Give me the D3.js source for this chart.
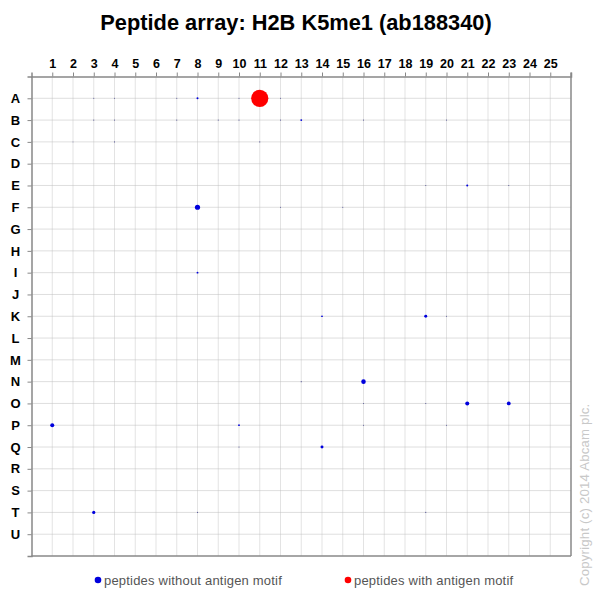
<!DOCTYPE html>
<html><head><meta charset="utf-8">
<script src="https://cdn.jsdelivr.net/npm/d3@7"></script>
<style>body{margin:0;background:#fff}svg{display:block}</style>
</head><body>
<svg id="c" width="599" height="599"></svg>
<script>
const title = "Peptide array: H2B K5me1 (ab188340)";
const columns = d3.range(1, 26);
const rows = ["A","B","C","D","E","F","G","H","I","J","K","L","M","N","O","P","Q","R","S","T","U"];
// [row, column, relative signal]
const withoutMotif = [
  ["A",8,0.014],["B",13,0.012],["E",21,0.014],["F",8,0.09],["I",8,0.012],
  ["K",14,0.01],["K",19,0.03],["N",16,0.07],["O",21,0.055],["O",23,0.05],
  ["P",1,0.055],["P",10,0.01],["Q",14,0.03],["T",3,0.035],
  ["A",3,0.004],["A",4,0.004],["A",7,0.004],["A",10,0.004],["A",12,0.004],
  ["B",3,0.004],["B",4,0.004],["B",7,0.004],["B",9,0.004],["B",10,0.004],["B",12,0.004],["B",16,0.004],["B",20,0.004],
  ["C",2,0.003],["C",4,0.004],["C",11,0.004],["E",19,0.004],["E",23,0.004],["F",12,0.004],["F",15,0.004],
  ["K",20,0.004],["N",13,0.004],["O",16,0.004],["O",19,0.004],["P",16,0.004],["P",20,0.004],["Q",10,0.004],["T",8,0.004],["T",19,0.004]
];
const withMotif = [["A",11,1.0]];
const legendLabels = ["peptides without antigen motif","peptides with antigen motif"];
const copyright = "Copyright (c) 2014 Abcam plc.";

const svg = d3.select("#c");
const x = d3.scaleLinear().domain([0, 26]).range([31.5, 571]);
const y = d3.scaleLinear().domain([0, 22]).range([76.5, 556]);
const rowIdx = r => rows.indexOf(r) + 1;
const r = d3.scaleSqrt().domain([0, 1]).range([0, 8.6]);
const font = "Liberation Sans, Arial, sans-serif";

svg.append("text").attr("x", 296).attr("y", 30).attr("text-anchor", "middle")
  .attr("font-family", font).attr("font-weight", "bold")
  .attr("font-size", 21.8).attr("fill", "#000").text(title);

const g = svg.append("g");
// vertical grid
g.selectAll(".vg").data(columns).join("line")
  .attr("x1", d => x(d)).attr("x2", d => x(d)).attr("y1", y(0)).attr("y2", y(22))
  .attr("stroke", "#e3e3e3").attr("stroke-width", 1);
// horizontal grid
g.selectAll(".hg").data(rows).join("line")
  .attr("x1", x(0)).attr("x2", x(26)).attr("y1", d => y(rowIdx(d))).attr("y2", d => y(rowIdx(d)))
  .attr("stroke", "#bdbdbd").attr("stroke-width", 1).attr("stroke-dasharray", "1,1");

// axes
const topAxis = d3.axisTop(x).tickValues(columns).tickSize(4).tickFormat(d3.format("d"));
const ta = svg.append("g").attr("transform", `translate(0,${y(0)})`).call(topAxis);
ta.select(".domain").attr("stroke", "#888").attr("stroke-width", 1.5);
ta.selectAll(".tick line").attr("stroke", "#888");
ta.selectAll(".tick text").attr("font-family", font)
  .attr("font-weight", "bold").attr("font-size", 12.5).attr("fill", "#000").attr("y", -9);

const leftAxis = d3.axisLeft(y).tickValues(rows.map(rowIdx)).tickSize(4).tickFormat(i => rows[i-1]);
const la = svg.append("g").attr("transform", `translate(${x(0)},0)`).call(leftAxis);
la.select(".domain").attr("stroke", "#888").attr("stroke-width", 1.5);
la.selectAll(".tick line").attr("stroke", "#888");
la.selectAll(".tick text").attr("font-family", font)
  .attr("font-weight", "bold").attr("font-size", 13).attr("fill", "#000")
  .attr("text-anchor", "middle").attr("x", -16);

// right and bottom borders
svg.append("line").attr("x1", x(26)).attr("x2", x(26)).attr("y1", y(0)-4).attr("y2", y(22))
  .attr("stroke", "#888").attr("stroke-width", 1.5);
svg.append("line").attr("x1", x(0)).attr("x2", x(26)).attr("y1", y(22)).attr("y2", y(22))
  .attr("stroke", "#888").attr("stroke-width", 1.5);

// points
svg.append("g").selectAll("circle").data(withoutMotif).join("circle")
  .attr("cx", d => x(d[1])).attr("cy", d => y(rowIdx(d[0]))).attr("r", d => r(d[2]))
  .attr("fill", d => d[2] < 0.005 ? "#5a5a9a" : "#0000dd");
svg.append("g").selectAll("circle").data(withMotif).join("circle")
  .attr("cx", d => x(d[1])).attr("cy", d => y(rowIdx(d[0]))).attr("r", d => r(d[2]))
  .attr("fill", "#ff0000");

// legend
const leg = svg.append("g").attr("font-family", font).attr("font-size", 13);
const legPos = [[98, "#0000dd"], [348, "#ff0000"]];
legendLabels.forEach((t, i) => {
  leg.append("circle").attr("cx", legPos[i][0]).attr("cy", 580).attr("r", 3.3).attr("fill", legPos[i][1]);
  leg.append("text").attr("x", legPos[i][0] + 6).attr("y", 584.5).attr("fill", "#555")
    .attr("letter-spacing", 0.2).text(t);
});

// copyright
svg.append("text").attr("transform", "translate(589,586) rotate(-90)")
  .attr("font-family", font).attr("font-size", 13.2).attr("letter-spacing", 0.2)
  .attr("fill", "#c8c8c8").text(copyright);
</script>
</body></html>
